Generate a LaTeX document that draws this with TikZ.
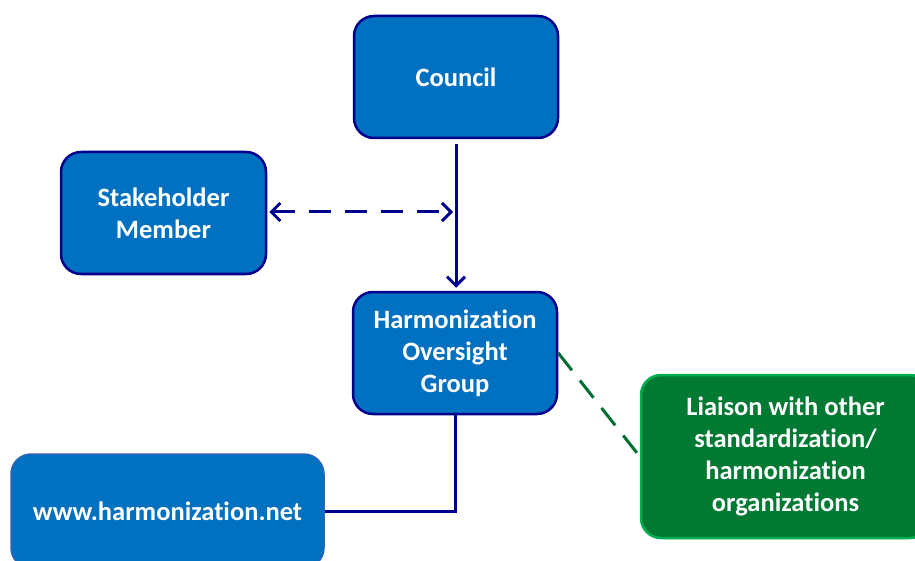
\documentclass[tikz,border=0pt]{standalone}
\usepackage{fontspec}
\setmainfont{Carlito}[Ligatures=NoCommon]
\usetikzlibrary{arrows.meta}
\definecolor{boxblue}{RGB}{0,112,192}
\definecolor{navy}{RGB}{0,0,140}
\definecolor{wwwedge}{RGB}{47,100,180}
\definecolor{boxgreen}{RGB}{0,122,51}
\definecolor{greenedge}{RGB}{0,176,80}
\definecolor{dashgreen}{RGB}{0,110,50}
\tikzset{
  orgbox/.style={rectangle, rounded corners=20pt, fill=boxblue, draw=navy, line width=2.5pt,
    text=white, font=\fontsize{26.5}{32}\selectfont\bfseries, align=center,
    minimum width=204pt, minimum height=122pt, inner sep=0pt},
  wwwbox/.style={orgbox, draw=wwwedge, line width=1.5pt},
  liaisonbox/.style={orgbox, fill=boxgreen, draw=greenedge, line width=2.5pt},
  link/.style={draw=navy, line width=3pt},
  arrowtip/.style={-{Straight Barb[length=9pt,width=18pt,line width=3pt]}},
  bluedash/.style={link, dash pattern=on 22pt off 14pt},
  greendash/.style={draw=dashgreen, line width=3pt, dash pattern=on 22pt off 13pt}
}
\begin{document}
\begin{tikzpicture}[x=1pt,y=-1pt]
\useasboundingbox (0,0) rectangle (915,561);
\node[orgbox] (council) at (456,77) {Council};
\node[orgbox, minimum width=205pt] (stake) at (163.5,213) {Stakeholder\\Member};
\node[orgbox] (hog) at (455,353) {Harmonization\\Oversight\\Group};
\node[wwwbox, minimum width=313pt, minimum height=114pt] (www) at (167.5,511) {www.harmonization.net};
\node[liaisonbox, minimum width=289pt, minimum height=163pt] (liaison) at (785.5,456.5) {Liaison with other\\standardization/\\harmonization\\organizations};
\coordinate (junction) at (456,212);
\draw[link, arrowtip, shorten <=5pt, shorten >=3pt] (council.south) -- (hog.north -| council.south);
\draw[bluedash, {Straight Barb[length=9pt,width=18pt,line width=3pt]}-{Straight Barb[length=9pt,width=18pt,line width=3pt]}, shorten <=2pt, shorten >=3pt] (stake.east |- junction) -- (junction);
\draw[link] (hog.south) |- (www.east);
\draw[greendash] (hog.east) -- (liaison.west);
\end{tikzpicture}
\end{document}
